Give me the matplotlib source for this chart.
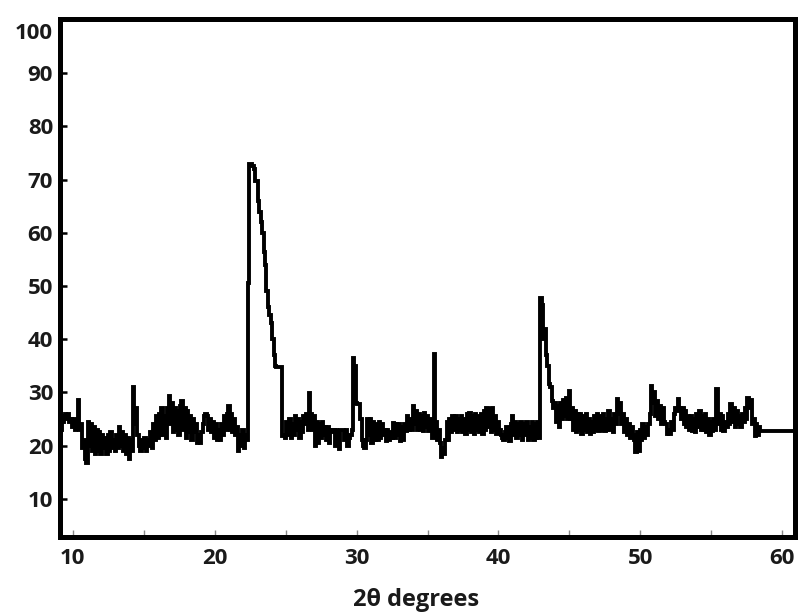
import numpy as np
import matplotlib
matplotlib.use("Agg")
import matplotlib.pyplot as plt
from matplotlib.transforms import ScaledTranslation

# 2-theta sampling: 9.2 .. 58.5 deg every 0.1 deg, then a flat tail
two_theta_start = 9.2
two_theta_step = 0.1

intensity = [
    23, 24.5, 25.5, 26, 25, 26, 24.5, 25,                    # 9.2-9.9
    23.5, 25, 23, 24, 28.5, 23, 24, 19.5, 21, 17.5,          # 10
    16.8, 24.5, 20, 24, 19, 23.5, 18.5, 23, 19, 22.5,        # 11
    18.5, 22, 19.5, 21.5, 18.5, 22, 19, 22.5, 19.5, 21,      # 12
    19, 22, 19.5, 23.5, 20, 22.5, 19, 22, 18.5, 21.5,        # 13
    17.5, 21, 19, 31, 24, 27, 22, 20, 19, 21,                # 14
    19.5, 21.5, 19, 21, 20, 22.5, 19.5, 24, 21, 25.5,        # 15
    21.5, 26, 22, 27, 22, 25.5, 21.5, 27, 29.3, 24,          # 16
    28, 22.5, 27, 23, 26.5, 22, 27.5, 28.4, 23, 27,          # 17
    21.5, 26.5, 22.5, 25.5, 21, 25, 22.5, 24, 20.5, 22,      # 18
    20.5, 22.5, 24, 25.5, 26, 25.5, 23, 25, 22.5, 24.5,      # 19
    21.5, 24, 21, 23, 21, 24, 22, 25.5, 23, 26,              # 20
    27.4, 23, 26, 22.5, 25, 22, 23.5, 19, 22, 20,            # 21
    23, 19.5, 22, 21, 50.5, 73, 73, 72.5, 72, 69.7,          # 22
    69.7, 66, 64, 62, 60, 56.4, 54, 49, 46, 44.5,            # 23
    43, 40, 37, 35, 34.8, 34.8, 34.8, 34.8, 21.8, 22,        # 24
    21.5, 24.5, 22, 25, 21.5, 24, 22, 25.5, 23, 25,          # 25
    21.5, 24.5, 22.5, 25.5, 24, 26, 23, 29.9, 26, 23,        # 26
    25.5, 20, 24.5, 20.5, 24, 21.5, 24.5, 22, 23.5, 21,      # 27
    23.5, 20.5, 23, 22.5, 23, 20, 23, 21, 19.4, 23,          # 28
    23, 23, 21, 23, 20, 21.5, 22, 23, 36.4, 35,              # 29
    28, 27.8, 27.8, 25, 21, 20, 19.5, 21, 25, 22,            # 30
    25, 20.5, 24.5, 21, 24, 21, 24.5, 21.5, 24, 22,          # 31
    23, 20.9, 23, 21, 22.5, 21.5, 24.3, 21.5, 24, 22,        # 32
    24, 20.9, 23.5, 21, 24, 22.8, 25.6, 23, 25, 23,          # 33
    27.4, 24, 26.5, 23, 26, 23, 25.5, 22.8, 26.2, 23.5,      # 34
    25.5, 22.8, 25, 23, 21.5, 37.3, 24.5, 21, 23, 20.5,      # 35
    17.8, 19.5, 18.5, 21, 24.5, 21, 25, 22.5, 25.6, 23,      # 36
    25.5, 22.5, 25, 23, 25.5, 22.5, 25, 22.1, 26, 23,        # 37
    26.2, 22.5, 25.5, 22.1, 26, 23, 25.5, 22.5, 26, 22.1,    # 38
    26.5, 23, 27, 23.5, 26.8, 22.5, 27, 23, 25.5, 22.1,      # 39
    24.5, 23, 22, 21.5, 21, 22.5, 23.5, 21.5, 20.9, 24,      # 40
    25.6, 22, 24.5, 21.5, 24, 22, 24.5, 21, 24, 22,          # 41
    24.5, 21, 23.5, 21.5, 24.5, 21, 24, 21.5, 24.5, 21.5,    # 42
    47.8, 46.5, 40, 42, 37, 35, 31.5, 31, 28.4, 27,          # 43
    28, 24.5, 27.5, 23.5, 28, 25, 28.5, 25.5, 29, 25,        # 44
    30.3, 25, 27, 23, 26.5, 22.5, 26, 23, 26, 22.1,          # 45
    25.5, 23, 26, 22.5, 25, 22.1, 24.5, 22.5, 25.5, 23,      # 46
    26, 22.8, 25.5, 23, 26, 22.8, 25, 23, 26.5, 23,          # 47
    25, 22.5, 26, 24, 28.7, 26, 28, 24, 26, 22.5,            # 48
    25, 22, 24, 21.5, 23.5, 22, 21, 18.7, 22.5, 19,          # 49
    23, 21, 24, 21.5, 23.5, 22, 24, 26, 31.2, 28,            # 50
    30, 25.5, 28.4, 25, 27.5, 24, 27, 24.5, 24, 22.2,        # 51
    23, 22.2, 24.5, 23, 26, 27, 26.5, 28.7, 27, 25,          # 52
    27, 24, 26.5, 23.5, 25.5, 23, 25.5, 22.8, 25, 22.5,      # 53
    26, 23.5, 26.5, 23, 25.5, 23, 26, 22.5, 25, 22,          # 54
    24.5, 22.8, 25, 23, 30.6, 24, 26, 23, 25.5, 22.8,        # 55
    24.5, 23.5, 26, 24, 27.8, 24.5, 27, 23.4, 26.5, 24,      # 56
    25.5, 23.4, 26, 24.5, 27, 25, 29, 27, 28.5, 24,          # 57
    25, 21.8, 24, 22, 23.5, 22.8,                            # 58.0-58.5
]
tail_two_theta = [60.85]
tail_intensity = [22.8]

x_ticks = [10, 20, 30, 40, 50, 60]
x_minor_ticks = [15, 25, 35, 45, 55]
y_ticks = [10, 20, 30, 40, 50, 60, 70, 80, 90, 100]
x_label = "2θ degrees"

x = list(np.round(two_theta_start + two_theta_step * np.arange(len(intensity)), 2)) + tail_two_theta
y = list(intensity) + tail_intensity

plt.rcParams['font.family'] = ['Open Sans', 'DejaVu Sans']
fig = plt.figure(figsize=(8.01, 6.15), dpi=100)
ax = fig.add_axes([60 / 801, 1 - 536.5 / 615, (795 - 60) / 801, (536.5 - 18.5) / 615])

ax.plot(x, y, color='black', lw=2.8, drawstyle='steps-mid', solid_joinstyle='miter')

ax.set_xlim(9.1, 60.9)
ax.set_ylim(2.9, 100.3)

for s in ax.spines.values():
    s.set_linewidth(3.6)
    s.set_color('black')

ax.set_xticks(x_ticks)
ax.set_xticks(x_minor_ticks, minor=True)
ax.set_yticks(y_ticks)
ax.set_xticklabels([str(v) for v in x_ticks])
ax.set_yticklabels([str(v) for v in y_ticks])
ax.tick_params(axis='x', which='both', direction='in', length=5, width=1, color='#888888',
               labelsize=16, labelcolor='#1a1a1a', pad=8)
ax.tick_params(axis='y', direction='in', length=5, width=1.8, color='black',
               labelsize=16, labelcolor='#1a1a1a', pad=5)
for lbl in ax.get_xticklabels() + ax.get_yticklabels():
    lbl.set_fontweight('bold')

for lbl in ax.get_yticklabels():
    if lbl.get_text() == '100':
        lbl.set_transform(lbl.get_transform() + ScaledTranslation(0, -0.11, fig.dpi_scale_trans))

ax.set_xlabel(x_label, fontsize=17, fontweight='bold', color='#1a1a1a')
ax.xaxis.set_label_coords(0.484, -0.1)

fig.savefig("out.png", dpi=100)
